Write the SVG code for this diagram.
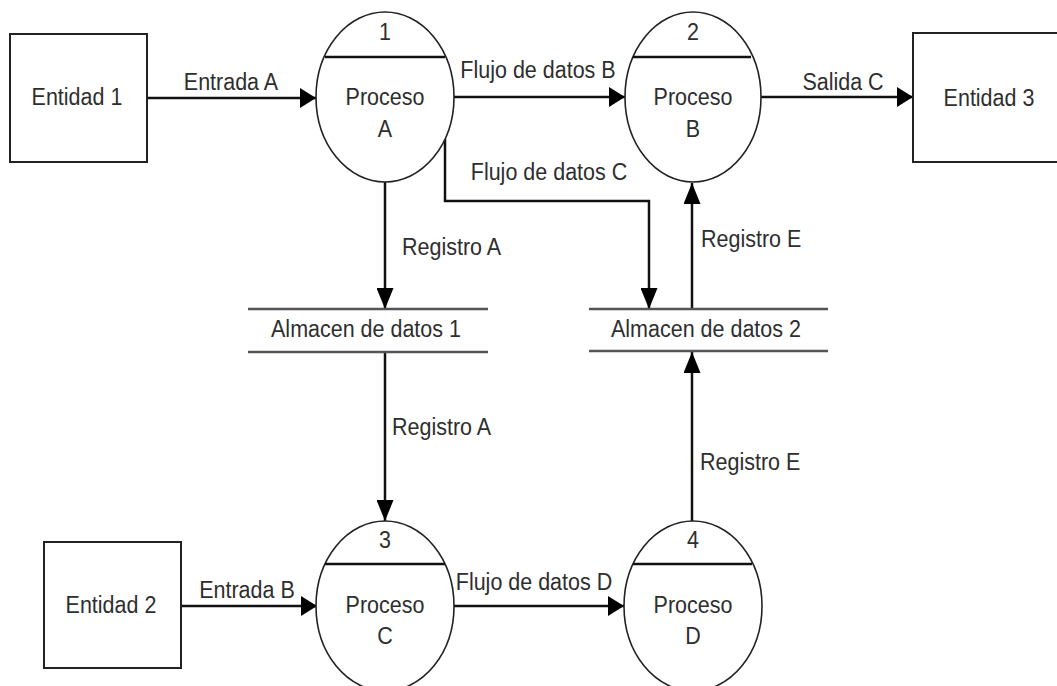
<svg xmlns="http://www.w3.org/2000/svg" width="1057" height="686" viewBox="0 0 1057 686">
<defs>
<style>
text{font-family:"Liberation Sans",Arial,sans-serif;font-size:21.5px;fill:#2e2e2e}
.mid{text-anchor:middle}
.ent{fill:#fff;stroke:#222;stroke-width:2}
.proc{fill:#fff;stroke:#222;stroke-width:1.6}
.sep{stroke:#111;stroke-width:2.5}
.store{stroke:#555;stroke-width:2.5}
.flow{fill:none;stroke:#111;stroke-width:2.5}
.h{marker-end:url(#ah)}
.v{marker-end:url(#av)}
</style>
<marker id="ah" markerUnits="userSpaceOnUse" markerWidth="16" markerHeight="20" refX="16" refY="10" orient="auto" viewBox="0 0 16 20"><path d="M0,0 L16,10 L0,20 z" fill="#000"/></marker>
<marker id="av" markerUnits="userSpaceOnUse" markerWidth="21" markerHeight="17" refX="21" refY="8.5" orient="auto" viewBox="0 0 21 17"><path d="M0,0 L21,8.5 L0,17 z" fill="#000"/></marker>
</defs>
<rect width="1057" height="686" fill="#fff"/>
<g id="connectors">
<path class="flow h" d="M147,98 H316"/>
<path class="flow h" d="M454,97 H625"/>
<path class="flow h" d="M761,97 H913"/>
<path class="flow v" d="M445,139 V201 H649 V309"/>
<path class="flow v" d="M385,182 V309"/>
<path class="flow v" d="M692,309 V183"/>
<path class="flow v" d="M385,352 V521"/>
<path class="flow v" d="M692,521 V352"/>
<path class="flow h" d="M181,606 H317"/>
<path class="flow h" d="M454,606 H624"/>
<text class="mid" x="231" y="90" transform="matrix(1,0,0,1.15,0,-13.5)">Entrada A</text>
<text class="mid" x="538" y="78" transform="matrix(1,0,0,1.15,0,-11.7)">Flujo de datos B</text>
<text class="mid" x="843" y="90" transform="matrix(1,0,0,1.15,0,-13.5)">Salida C</text>
<text class="mid" x="549" y="180" transform="matrix(1,0,0,1.15,0,-27)">Flujo de datos C</text>
<text x="402" y="255" transform="matrix(1,0,0,1.15,0,-38.25)">Registro A</text>
<text x="701" y="247" transform="matrix(1,0,0,1.15,0,-37.05)">Registro E</text>
<text x="392" y="435" transform="matrix(1,0,0,1.15,0,-65.25)">Registro A</text>
<text x="700" y="470" transform="matrix(1,0,0,1.15,0,-70.5)">Registro E</text>
<text class="mid" x="247" y="598" transform="matrix(1,0,0,1.15,0,-89.7)">Entrada B</text>
<text class="mid" x="534" y="590" transform="matrix(1,0,0,1.15,0,-88.5)">Flujo de datos D</text>
</g>
<g id="entidad1"><rect class="ent" x="10" y="34" width="137" height="128"/><text class="mid" x="77" y="105" transform="matrix(1,0,0,1.15,0,-15.75)">Entidad 1</text></g>
<g id="entidad2"><rect class="ent" x="44" y="542" width="137" height="126"/><text class="mid" x="111" y="613" transform="matrix(1,0,0,1.15,0,-91.95)">Entidad 2</text></g>
<g id="entidad3"><rect class="ent" x="913" y="33" width="160" height="129"/><text class="mid" x="989" y="106" transform="matrix(1,0,0,1.15,0,-15.9)">Entidad 3</text></g>
<g id="procesoA"><ellipse class="proc" cx="385" cy="97" rx="69" ry="85"/><line class="sep" x1="325" y1="57" x2="445" y2="57"/><text class="mid" x="385" y="40" transform="matrix(1,0,0,1.15,0,-6)">1</text><text class="mid" x="385" y="105" transform="matrix(1,0,0,1.15,0,-15.75)">Proceso</text><text class="mid" x="385" y="137" transform="matrix(1,0,0,1.15,0,-20.55)">A</text></g>
<g id="procesoB"><ellipse class="proc" cx="693" cy="97" rx="68" ry="85"/><line class="sep" x1="633" y1="57" x2="751" y2="57"/><text class="mid" x="693" y="40" transform="matrix(1,0,0,1.15,0,-6)">2</text><text class="mid" x="693" y="105" transform="matrix(1,0,0,1.15,0,-15.75)">Proceso</text><text class="mid" x="693" y="137" transform="matrix(1,0,0,1.15,0,-20.55)">B</text></g>
<g id="procesoC"><ellipse class="proc" cx="385" cy="606" rx="69" ry="85"/><line class="sep" x1="325" y1="564" x2="445" y2="564"/><text class="mid" x="385" y="548" transform="matrix(1,0,0,1.15,0,-82.2)">3</text><text class="mid" x="385" y="613" transform="matrix(1,0,0,1.15,0,-91.95)">Proceso</text><text class="mid" x="385" y="644" transform="matrix(1,0,0,1.15,0,-96.6)">C</text></g>
<g id="procesoD"><ellipse class="proc" cx="693" cy="606" rx="69" ry="85"/><line class="sep" x1="633" y1="564" x2="752" y2="564"/><text class="mid" x="693" y="548" transform="matrix(1,0,0,1.15,0,-82.2)">4</text><text class="mid" x="693" y="613" transform="matrix(1,0,0,1.15,0,-91.95)">Proceso</text><text class="mid" x="693" y="644" transform="matrix(1,0,0,1.15,0,-96.6)">D</text></g>
<g id="almacen1"><line class="store" x1="248" y1="309" x2="488" y2="309"/><line class="store" x1="248" y1="352" x2="488" y2="352"/><text class="mid" x="366" y="337" transform="matrix(1,0,0,1.15,0,-50.55)">Almacen de datos 1</text></g>
<g id="almacen2"><line class="store" x1="589" y1="309" x2="828" y2="309"/><line class="store" x1="589" y1="351" x2="828" y2="351"/><text class="mid" x="706" y="337" transform="matrix(1,0,0,1.15,0,-50.55)">Almacen de datos 2</text></g>
</svg>
